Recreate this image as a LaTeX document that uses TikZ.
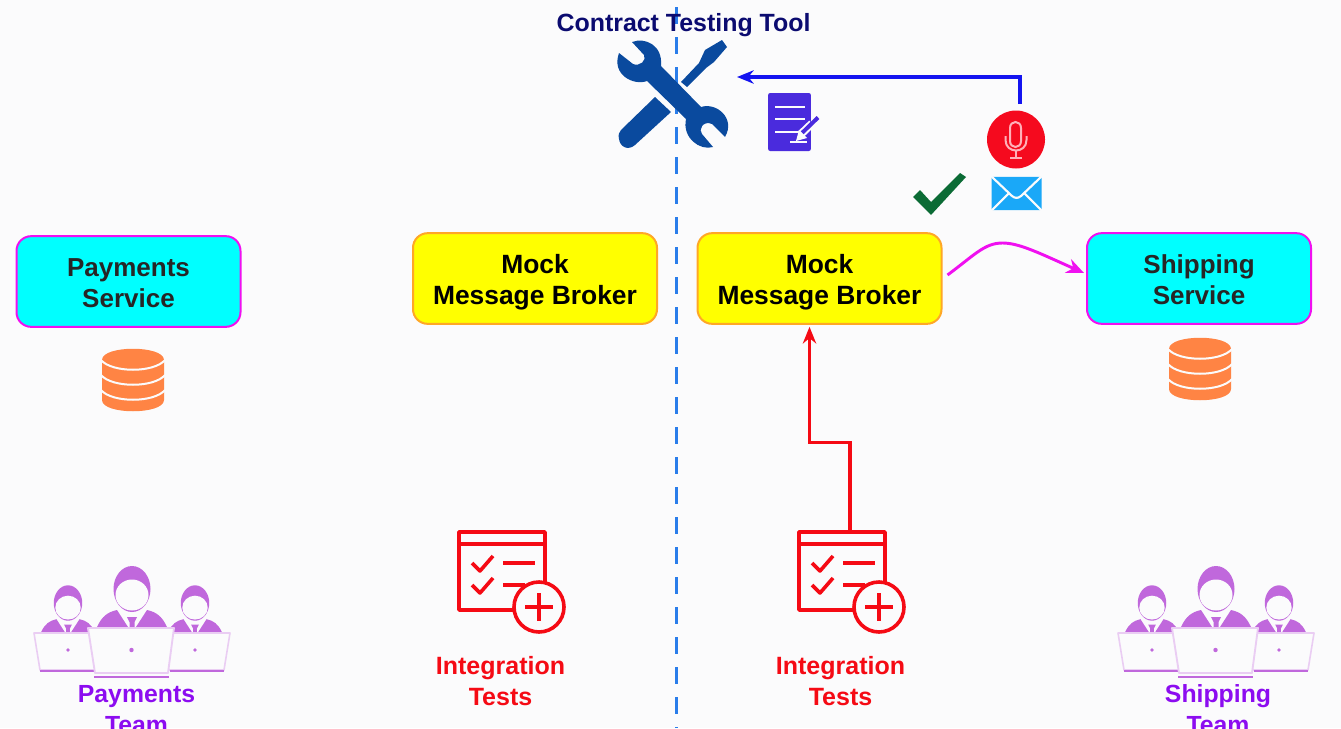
\documentclass[tikz,border=0pt]{standalone}
\usepackage{fontspec}
\setmainfont{Liberation Sans}
\usetikzlibrary{calc,arrows.meta,positioning}
\definecolor{bgc}{HTML}{FBFBFC}
\definecolor{cyanbox}{HTML}{00FFFF}
\definecolor{yellowbox}{HTML}{FFFF00}
\definecolor{orangeline}{HTML}{FFA726}
\definecolor{magentaline}{HTML}{F010F0}
\definecolor{dbcolor}{HTML}{FF8444}
\definecolor{teamcolor}{HTML}{C068DC}
\definecolor{lapcolor}{HTML}{EACDF3}
\definecolor{teamtext}{HTML}{8C0CF0}
\definecolor{toolblue}{HTML}{0A4A9E}
\definecolor{dashblue}{HTML}{2A7DEA}
\definecolor{titleblue}{HTML}{0B0B70}
\definecolor{docblue}{HTML}{4A2BDD}
\definecolor{arrowblue}{HTML}{1414F0}
\definecolor{micred}{HTML}{F50A1E}
\definecolor{micpink}{HTML}{FFB0B8}
\definecolor{envblue}{HTML}{1AA8F8}
\definecolor{checkgreen}{HTML}{0B6B35}
\definecolor{testred}{HTML}{F50A14}
\newcommand{\brokerfix}{\rule{0pt}{20.2pt}}
\newcommand{\servicefix}{\rule{0pt}{15.3pt}}
\tikzset{
  x=0.75pt,y=-0.75pt,
  servicebox/.style={draw=magentaline,fill=cyanbox,line width=1.5pt,rounded corners=11pt,
    minimum width=168pt,minimum height=68pt,inner sep=0pt,outer sep=0pt,align=center,
    text=black!85,font=\fontsize{19.5}{23.25}\selectfont\bfseries},
  brokerbox/.style={draw=orangeline,fill=yellowbox,line width=1.5pt,rounded corners=11pt,
    minimum width=183pt,minimum height=68pt,inner sep=0pt,outer sep=0pt,align=center,
    text=black,font=\fontsize{19.8}{23.25}\selectfont\bfseries},
  testlabel/.style={inner sep=0pt,align=center,text=testred,font=\fontsize{18.75}{23.25}\selectfont\bfseries},
  teamlabel/.style={inner sep=0pt,align=center,text=teamtext,font=\fontsize{18.6}{23.25}\selectfont\bfseries},
  titlelabel/.style={inner sep=0pt,text=titleblue,font=\fontsize{18.7}{23}\selectfont\bfseries},
  iconbox/.style={inner sep=0pt,outer sep=0pt,minimum width=#1},
  connblue/.style={draw=arrowblue,line width=2.4pt,-{Stealth[length=12.5pt,width=10pt]}},
  connred/.style={draw=testred,line width=2.4pt,-{Stealth[length=12.5pt,width=10pt]}},
  connmag/.style={draw=magentaline,line width=2.2pt,-{Stealth[length=13pt,width=11pt]}},
  person/.pic={
    \fill[teamcolor] (0,0) ellipse [x radius=18.5,y radius=23];
    \fill[bgc] (0,6) ellipse [x radius=16.5,y radius=15.5];
    \fill[teamcolor] (-35,38) .. controls (-30,27) and (-24,23) .. (-15,21) -- (-4,38) -- cycle;
    \fill[teamcolor] (35,38) .. controls (30,27) and (24,23) .. (15,21) -- (4,38) -- cycle;
    \fill[teamcolor] (-5,28) -- (5,28) -- (2.5,33) -- (2.5,38) -- (-2.5,38) -- (-2.5,33) -- cycle;
  },
  team/.pic={
    \pic[scale=0.77] at (68,603) {person};
    \pic[scale=0.77] at (195,603) {person};
    \draw[lapcolor,fill=bgc,line width=1.2pt,line join=round] (34,633) -- (92,633) -- (95,670) -- (40,670) -- cycle;
    \draw[lapcolor,fill=bgc,line width=1.2pt,line join=round] (172,633) -- (230,633) -- (224,670) -- (168,670) -- cycle;
    \draw[teamcolor,line width=1.6pt] (40,671) -- (94,671) (170,671) -- (224,671);
    \fill[teamcolor] (68,650) circle [radius=1.8] (195,650) circle [radius=1.8];
    \pic at (132,589) {person};
    \draw[lapcolor,fill=bgc,line width=1.4pt,line join=round] (88,628) -- (174,628) -- (168,673) -- (95,673) -- cycle;
    \draw[teamcolor,line width=1.7pt] (94,677) -- (169,677);
    \fill[teamcolor] (131.5,650) circle [radius=2.2];
  },
  database/.pic={
    \fill[dbcolor] (102,360) .. controls (102,345) and (164,345) .. (164,360)
      -- (164,400) .. controls (164,415) and (102,415) .. (102,400) -- cycle;
    \draw[bgc,line width=1.5pt] (101,360) .. controls (112,373) and (154,373) .. (165,360);
    \draw[bgc,line width=1.5pt] (101,375) .. controls (112,388) and (154,388) .. (165,375);
    \draw[bgc,line width=1.5pt] (101,390) .. controls (112,403) and (154,403) .. (165,390);
  },
  testicon/.pic={
    \draw[testred,line width=2.7pt,line join=round] (459,532) rectangle (545,610);
    \draw[testred,line width=2.7pt] (459,544) -- (545,544);
    \draw[testred,line width=2.7pt,line join=round] (472,563) -- (480,571) -- (493,556);
    \draw[testred,line width=2.7pt,line join=round] (472,585) -- (480,593) -- (493,578);
    \draw[testred,line width=2.7pt] (503,563) -- (535,563) (503,585) -- (525,585);
    \draw[testred,fill=bgc,line width=2.7pt] (539,607) circle [radius=25];
    \draw[testred,line width=2.7pt] (525,607) -- (553,607) (539,593) -- (539,621);
  }
}
\begin{document}
\begin{tikzpicture}
\useasboundingbox (0,0) rectangle (1341,728);
\fill[bgc] (0,0) rectangle (1341,728);

% divider
\coordinate (divtop) at (676.5,7);
\coordinate (divbot) at (676.5,728);
\draw[dashblue,line width=2.5pt,dash pattern=on 12.75pt off 9.75pt] (divtop) -- (divbot);

% title
\node[titlelabel] (title) at (683.5,25) {Contract Testing Tool};

% tool icon: screwdriver
\fill[toolblue,line join=round] (681,82) -- (699,63) -- (705,50) -- (722,40) -- (727,47) -- (714,62) -- (706,68) -- (687,87) -- cycle;
\fill[toolblue] (655,97) -- (671,112) -- (635,145) .. controls (628,151) and (620,147) .. (619,139)
  .. controls (618,135) and (619,132) .. (621,130) -- cycle;
% tool icon: wrench
\fill[toolblue] (632,42) .. controls (645,37) and (663,45) .. (661,66)
  -- (701,107) .. controls (716,102) and (736,118) .. (725,137)
  -- (712,124) .. controls (703,120) and (698,130) .. (702,134)
  -- (713,147) .. controls (700,151) and (682,138) .. (686,119)
  -- (647,81) .. controls (634,86) and (611,75) .. (619,53)
  -- (633,64) .. controls (640,67) and (647,60) .. (644,55) -- cycle;
\coordinate (toolend) at (737,77);

% document icon
\node[fill=docblue,rounded corners=1.5pt,minimum width=32pt,minimum height=43.5pt,inner sep=0pt] (doc) at (789.5,122) {};
\draw[bgc,line width=1.7pt] (775,107) -- (805,107) (775,119) -- (805,119) (775,132) -- (800,132);
\draw[bgc,line width=1.7pt] (790,142) -- (807,142);
\draw[bgc,line width=6pt] (801,134) -- (812,123.5);
\draw[docblue,line width=3pt] (802,133) -- (818,117.5);
\fill[bgc] (796,141) -- (799,130) -- (807,138) -- cycle;

% mic
\node[circle,fill=micred,minimum size=43.5pt,inner sep=0pt] (mic) at (1016,139.5) {};
\draw[micpink,line width=1.5pt] (1010,128) .. controls (1010,120) and (1021,120) .. (1021,128) -- (1021,141) .. controls (1021,149) and (1010,149) .. (1010,141) -- cycle;
\draw[micpink,line width=1.5pt] (1005.5,136) -- (1005.5,140) .. controls (1005.5,154) and (1026.5,154) .. (1026.5,140) -- (1026.5,136);
\draw[micpink,line width=1.5pt] (1015.5,151) -- (1015.5,157.5) (1010,157.5) -- (1022,157.5);

% envelope
\node[fill=envblue,rounded corners=1pt,minimum width=37.5pt,minimum height=25pt,inner sep=0pt] (mail) at (1016.5,193.5) {};
\draw[bgc,line width=1.6pt,line join=round] (992,177) -- (1012,196) .. controls (1015,198.5) and (1018,198.5) .. (1021,196) -- (1041,177);
\draw[bgc,line width=1.6pt] (992,210) -- (1009,193) (1041,210) -- (1024,193);

% check
\fill[checkgreen] (913,197) -- (920,190) -- (931,202) -- (960,173) -- (966,177) -- (931,215) -- cycle;

% boxes
\node[servicebox] (payments) at (128.5,281.5) {\servicefix Payments\\Service};
\node[brokerbox] (mockA) at (535,278.5) {\brokerfix Mock\\Message Broker};
\node[brokerbox] (mockB) at (819.5,278.5) {\brokerfix Mock\\Message Broker};
\node[servicebox] (shipping) at (1199,278.5) {\servicefix Shipping\\Service};

% databases
\pic at (0,0) {database};
\pic at (1067,-11) {database};

% teams
\pic at (0,0) {team};
\pic at (1084,0) {team};
\node[teamlabel] (teamA) at (136.5,709.5) {Payments\\Team};
\node[teamlabel] (teamB) at (1218,709.5) {Shipping\\Team};

% tests
\pic at (0,0) {testicon};
\pic at (340,0) {testicon};
\node[iconbox=64.5pt,minimum height=58.5pt] (testB) at (842,571) {};
\node[testlabel] (labelA) at (500.5,681) {Integration\\Tests};
\node[testlabel] (labelB) at (840.5,681) {Integration\\Tests};

% connectors
\draw[connblue] ($(mic.north)+(4,-6)$) |- (toolend);
\draw[connred] ($(testB.north)+(8,0)$) |- ($(mockB.south)+(-10,119)$) -- ($(mockB.south)+(-10,3)$);
\draw[connmag] ($(mockB.east)+(6,-3.5)$) .. controls ($(mockB.east)+(33,-23.5)$) and ($(mockB.east)+(43,-35.5)$) .. ($(mockB.east)+(61,-35.5)$)
  .. controls ($(mockB.east)+(78,-35.5)$) and ($(shipping.west)+(-47,-25)$) .. ($(shipping.west)+(-3,-5.5)$);
\end{tikzpicture}
\end{document}
